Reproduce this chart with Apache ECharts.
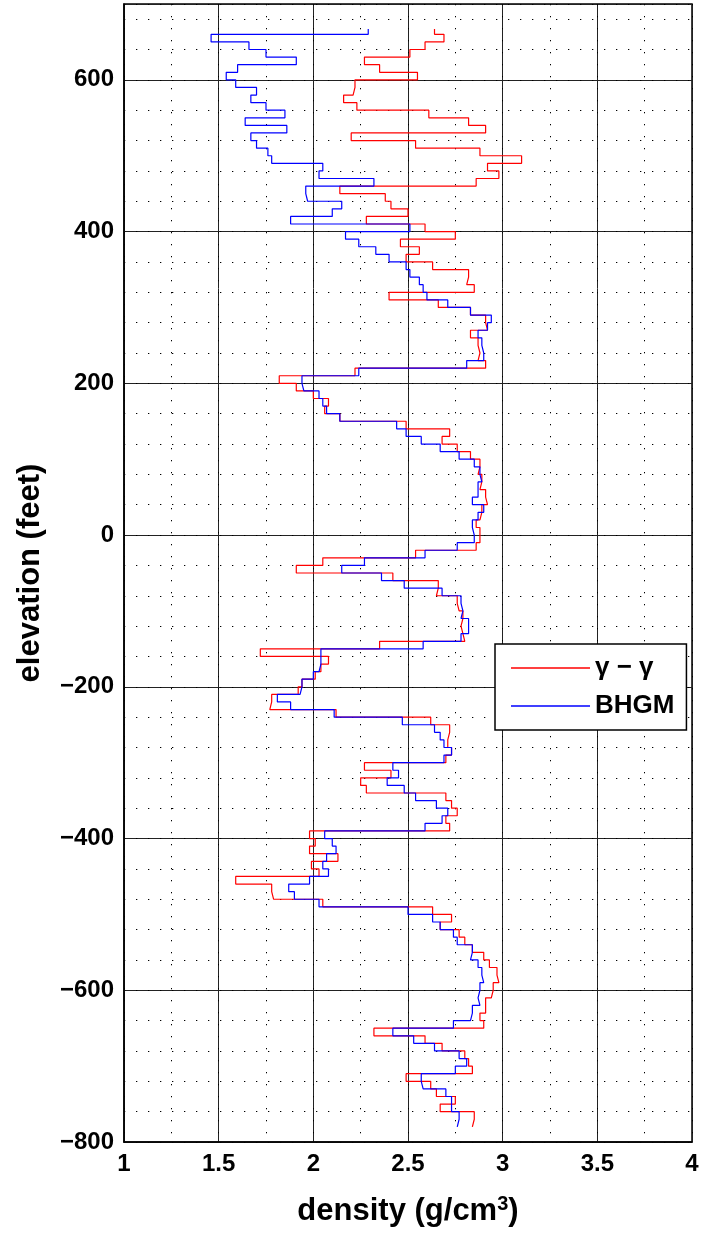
<!DOCTYPE html>
<html>
<head>
<meta charset="utf-8">
<title>Density log</title>
<script src="https://cdn.jsdelivr.net/npm/echarts@6/dist/echarts.min.js"></script>
<style>
  html, body { margin: 0; padding: 0; background: #fff; }
  #chart { width: 702px; height: 1234px; }
</style>
</head>
<body>
<div id="chart"></div>
<script>
// Layer boundaries (elevation, feet), top to bottom
const elevations = [
  667, 660, 650, 640, 630, 620, 610, 600,
  590, 580, 570, 560, 550, 540, 530, 520, 510, 500,
  490, 480, 470, 460, 450, 440, 430, 420, 410, 400,
  390, 380, 370, 360, 350, 340, 330, 320, 310, 300,
  290, 280, 270, 260, 250, 240, 230, 220, 210, 200,
  190, 180, 170, 160, 150, 140, 130, 120, 110, 100,
  90, 80, 70, 60, 50, 40, 30, 20, 10, 0,
  -10, -20, -30, -40, -50, -60, -70, -80, -90, -100,
  -110, -120, -130, -140, -150, -160, -170, -180, -190, -200,
  -210, -220, -230, -240, -250, -260, -270, -280, -290, -300,
  -310, -320, -330, -340, -350, -360, -370, -380, -390, -400,
  -410, -420, -430, -440, -450, -460, -470, -480, -490, -500,
  -510, -520, -530, -540, -550, -560, -570, -580, -590, -600,
  -610, -620, -630, -640, -650, -660, -670, -680, -690, -700,
  -710, -720, -730, -740, -750, -760, -770, -780
];

// Gamma-gamma log density per layer (g/cm3)
const gammaGamma = [
  2.64, 2.69, 2.59, 2.51, 2.27, 2.35, 2.55,
  2.22, 2.21, 2.16, 2.23, 2.61, 2.82, 2.91, 2.20, 2.54, 2.88,
  3.10, 2.92, 2.98, 2.86, 2.14, 2.38, 2.41, 2.50, 2.28, 2.59,
  2.75, 2.46, 2.56, 2.49, 2.63, 2.82, 2.81, 2.85, 2.40, 2.66,
  2.83, 2.91, 2.92, 2.83, 2.87, 2.88, 2.87, 2.91, 2.22, 1.82,
  1.91, 2.00, 2.08, 2.06, 2.14, 2.49, 2.72, 2.68, 2.76, 2.83,
  2.88, 2.87, 2.89, 2.88, 2.91, 2.92, 2.89, 2.88, 2.86, 2.88,
  2.88, 2.86, 2.54, 2.05, 1.91, 2.42, 2.66, 2.65, 2.76, 2.77,
  2.79, 2.78, 2.79, 2.80, 2.35, 1.72, 2.08, 2.04, 2.01, 1.94,
  1.92, 1.78, 1.77, 2.12, 2.62, 2.72, 2.71, 2.71, 2.73, 2.70,
  2.27, 2.41, 2.25, 2.28, 2.70, 2.73, 2.76, 2.70, 2.72, 1.98,
  2.01, 1.98, 2.13, 1.99, 2.03, 1.59, 1.78, 1.79, 2.05, 2.63,
  2.73, 2.67, 2.77, 2.80, 2.84, 2.90, 2.93, 2.97, 2.98, 2.95,
  2.94, 2.91, 2.91, 2.88, 2.90, 2.32, 2.59, 2.68, 2.80, 2.82,
  2.84, 2.49, 2.62, 2.65, 2.75, 2.67, 2.85, 2.84
];

// Borehole gravity meter density per layer (g/cm3)
const bhgm = [
  2.29, 1.46, 1.66, 1.75, 1.91, 1.60, 1.54,
  1.59, 1.70, 1.67, 1.75, 1.85, 1.64, 1.86, 1.67, 1.70, 1.76,
  1.78, 2.05, 2.03, 2.32, 1.96, 1.97, 2.15, 2.10, 1.88, 2.51,
  2.17, 2.24, 2.33, 2.40, 2.49, 2.51, 2.56, 2.58, 2.60, 2.71,
  2.83, 2.94, 2.92, 2.87, 2.89, 2.90, 2.90, 2.81, 2.24, 1.94,
  1.95, 2.03, 2.05, 2.07, 2.14, 2.44, 2.49, 2.57, 2.67, 2.77,
  2.85, 2.88, 2.89, 2.87, 2.87, 2.84, 2.90, 2.87, 2.84, 2.85,
  2.85, 2.76, 2.59, 2.27, 2.15, 2.36, 2.48, 2.68, 2.78, 2.79,
  2.78, 2.82, 2.82, 2.78, 2.58, 2.04, 2.04, 2.03, 2.00, 1.94,
  1.93, 1.81, 1.88, 2.11, 2.47, 2.64, 2.67, 2.69, 2.73, 2.69,
  2.42, 2.45, 2.39, 2.48, 2.54, 2.65, 2.71, 2.68, 2.59, 2.06,
  2.10, 2.12, 2.07, 2.05, 2.08, 1.98, 1.87, 1.90, 2.03, 2.50,
  2.63, 2.67, 2.74, 2.76, 2.84, 2.83, 2.87, 2.89, 2.90, 2.88,
  2.87, 2.88, 2.84, 2.83, 2.74, 2.42, 2.53, 2.64, 2.77, 2.81,
  2.75, 2.57, 2.58, 2.70, 2.73, 2.73, 2.77, 2.76
];

const seriesNames = ['γ − γ', 'BHGM'];
const seriesColors = ['#ff0000', '#0000ff'];

// Each layer is drawn as a vertical segment at its density,
// joined to the next layer by a horizontal step.
function stepPath(values) {
  const pts = [];
  for (let i = 0; i < values.length; i++) {
    pts.push([values[i], elevations[i]]);
    pts.push([values[i], elevations[i + 1]]);
  }
  return pts;
}

const FONT = '"Liberation Sans", Arial, Helvetica, sans-serif';

const chart = echarts.init(document.getElementById('chart'), null, { renderer: 'canvas' });

const dotted = { color: '#000', width: 1, type: [1.3, 10.7] };

chart.setOption({
  animation: false,
  backgroundColor: '#fff',
  grid: {
    left: 124, right: 10, top: 4, bottom: 92,
    show: true, borderColor: '#000', borderWidth: 1.5, backgroundColor: 'transparent'
  },
  legend: {
    show: true,
    orient: 'vertical',
    left: 495, top: 644,
    data: seriesNames,
    icon: 'rect',
    itemWidth: 79, itemHeight: 1.3,
    itemGap: 12,
    padding: [11, 12, 11, 16],
    backgroundColor: '#fff',
    borderColor: '#000',
    borderWidth: 1.5,
    borderRadius: 0,
    textStyle: { fontFamily: FONT, fontWeight: 'bold', fontSize: 26, color: '#000', lineHeight: 24 }
  },
  xAxis: [
    {
      type: 'value', min: 1, max: 4, interval: 0.5,
      name: 'density (g/cm{sup|3})',
      nameLocation: 'middle', nameGap: 52,
      nameTextStyle: {
        fontFamily: FONT, fontWeight: 'bold', fontSize: 31, color: '#000',
        rich: { sup: { fontFamily: FONT, fontWeight: 'bold', fontSize: 20, color: '#000', verticalAlign: 'top', padding: [0, 0, 14, 0] } }
      },
      axisLine: { show: true, onZero: false, lineStyle: { color: '#000', width: 1.5 } },
      axisTick: { show: false },
      axisLabel: { fontFamily: FONT, fontWeight: 'bold', fontSize: 24, color: '#000', margin: 10 },
      splitLine: { show: true, lineStyle: { color: '#222', width: 1 } }
    },
    {
      type: 'value', min: 1, max: 4, interval: 0.25, position: 'top',
      axisLine: { show: false, onZero: false }, axisTick: { show: false }, axisLabel: { show: false },
      splitLine: { show: true, lineStyle: dotted }
    }
  ],
  yAxis: [
    {
      type: 'value', min: -800, max: 700, interval: 200,
      name: 'elevation (feet)',
      nameLocation: 'middle', nameGap: 78, nameRotate: 90,
      nameTextStyle: { fontFamily: FONT, fontWeight: 'bold', fontSize: 31, color: '#000' },
      axisLine: { show: true, onZero: false, lineStyle: { color: '#000', width: 1.5 } },
      axisTick: { show: false },
      axisLabel: {
        fontFamily: FONT, fontWeight: 'bold', fontSize: 24, color: '#000', margin: 10,
        formatter: v => (v % 200 === 0 ? String(v).replace('-', '\u2212') : '')
      },
      splitLine: { show: true, lineStyle: { color: '#222', width: 1 } }
    },
    {
      type: 'value', min: -800, max: 700, interval: 40, position: 'right',
      axisLine: { show: false, onZero: false }, axisTick: { show: false }, axisLabel: { show: false },
      splitLine: { show: true, lineStyle: dotted }
    }
  ],
  series: [
    {
      name: seriesNames[0], type: 'line', xAxisIndex: 0, yAxisIndex: 0,
      data: stepPath(gammaGamma), showSymbol: false, symbol: 'none',
      lineStyle: { color: seriesColors[0], width: 1.2 }, itemStyle: { color: seriesColors[0] },
      z: 3
    },
    {
      name: seriesNames[1], type: 'line', xAxisIndex: 0, yAxisIndex: 0,
      data: stepPath(bhgm), showSymbol: false, symbol: 'none',
      lineStyle: { color: seriesColors[1], width: 1.2 }, itemStyle: { color: seriesColors[1] },
      z: 4
    }
  ]
});
</script>
</body>
</html>
